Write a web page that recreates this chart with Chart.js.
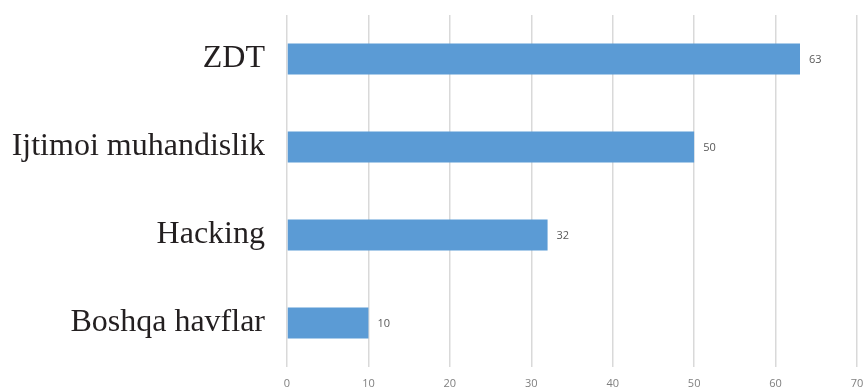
<!DOCTYPE html>
<html>
<head>
<meta charset="utf-8">
<script src="https://cdn.jsdelivr.net/npm/chart.js@4"></script>
<style>
  html, body { margin: 0; padding: 0; background: #fff; }
  #wrap { width: 866px; height: 392px; }
</style>
</head>
<body>
<div id="wrap"><canvas id="threatsChart"></canvas></div>
<script>
// Данные графика
const categories = ['ZDT', 'Ijtimoi muhandislik', 'Hacking', 'Boshqa havflar'];
const values = [63, 50, 32, 10];
const xTicks = [0, 10, 20, 30, 40, 50, 60, 70];

// Подписи значений справа от столбцов
const valueLabels = {
    id: 'valueLabels',
    afterDatasetsDraw(chart) {
        const ctx = chart.ctx;
        const meta = chart.getDatasetMeta(0);
        ctx.save();
        ctx.font = '11px "Open Sans", sans-serif';
        ctx.fillStyle = '#595959';
        ctx.textAlign = 'left';
        ctx.textBaseline = 'middle';
        meta.data.forEach((bar, i) => {
            ctx.fillText(String(values[i]), bar.x + 9, bar.y + 1);
        });
        ctx.restore();
    }
};

new Chart(document.getElementById('threatsChart').getContext('2d'), {
    type: 'bar',
    data: {
        labels: categories,
        datasets: [{
            data: values,
            backgroundColor: '#5B9BD5',
            borderWidth: 0,
            barPercentage: 0.7,
            categoryPercentage: 0.5
        }]
    },
    options: {
        indexAxis: 'y',
        responsive: true,
        maintainAspectRatio: false,
        animation: false,
        layout: { padding: { top: 15, right: 9, left: 0, bottom: 0 } },
        plugins: {
            legend: { display: false },
            tooltip: { enabled: false }
        },
        scales: {
            x: {
                min: 0,
                max: 70,
                afterBuildTicks: (scale) => {
                    scale.ticks = xTicks.map(v => ({ value: v }));
                },
                afterFit: (scale) => {
                    scale.height = 25;
                    scale.paddingLeft = 0;
                    scale.paddingRight = 0;
                },
                border: { display: false },
                grid: { color: '#D9D9D9', lineWidth: 1.5, drawTicks: false },
                ticks: {
                    padding: 10,
                    color: '#7F7F7F',
                    font: { family: '"Open Sans", sans-serif', size: 11 }
                }
            },
            y: {
                afterFit: (scale) => {
                    scale.width = 287;
                    scale.paddingTop = 0;
                    scale.paddingBottom = 0;
                },
                border: { display: false },
                grid: { display: false, drawTicks: false },
                ticks: {
                    padding: 22,
                    color: '#231F20',
                    font: { family: '"Liberation Serif", serif', size: 32 }
                }
            }
        }
    },
    plugins: [valueLabels]
});
</script>
</body>
</html>
